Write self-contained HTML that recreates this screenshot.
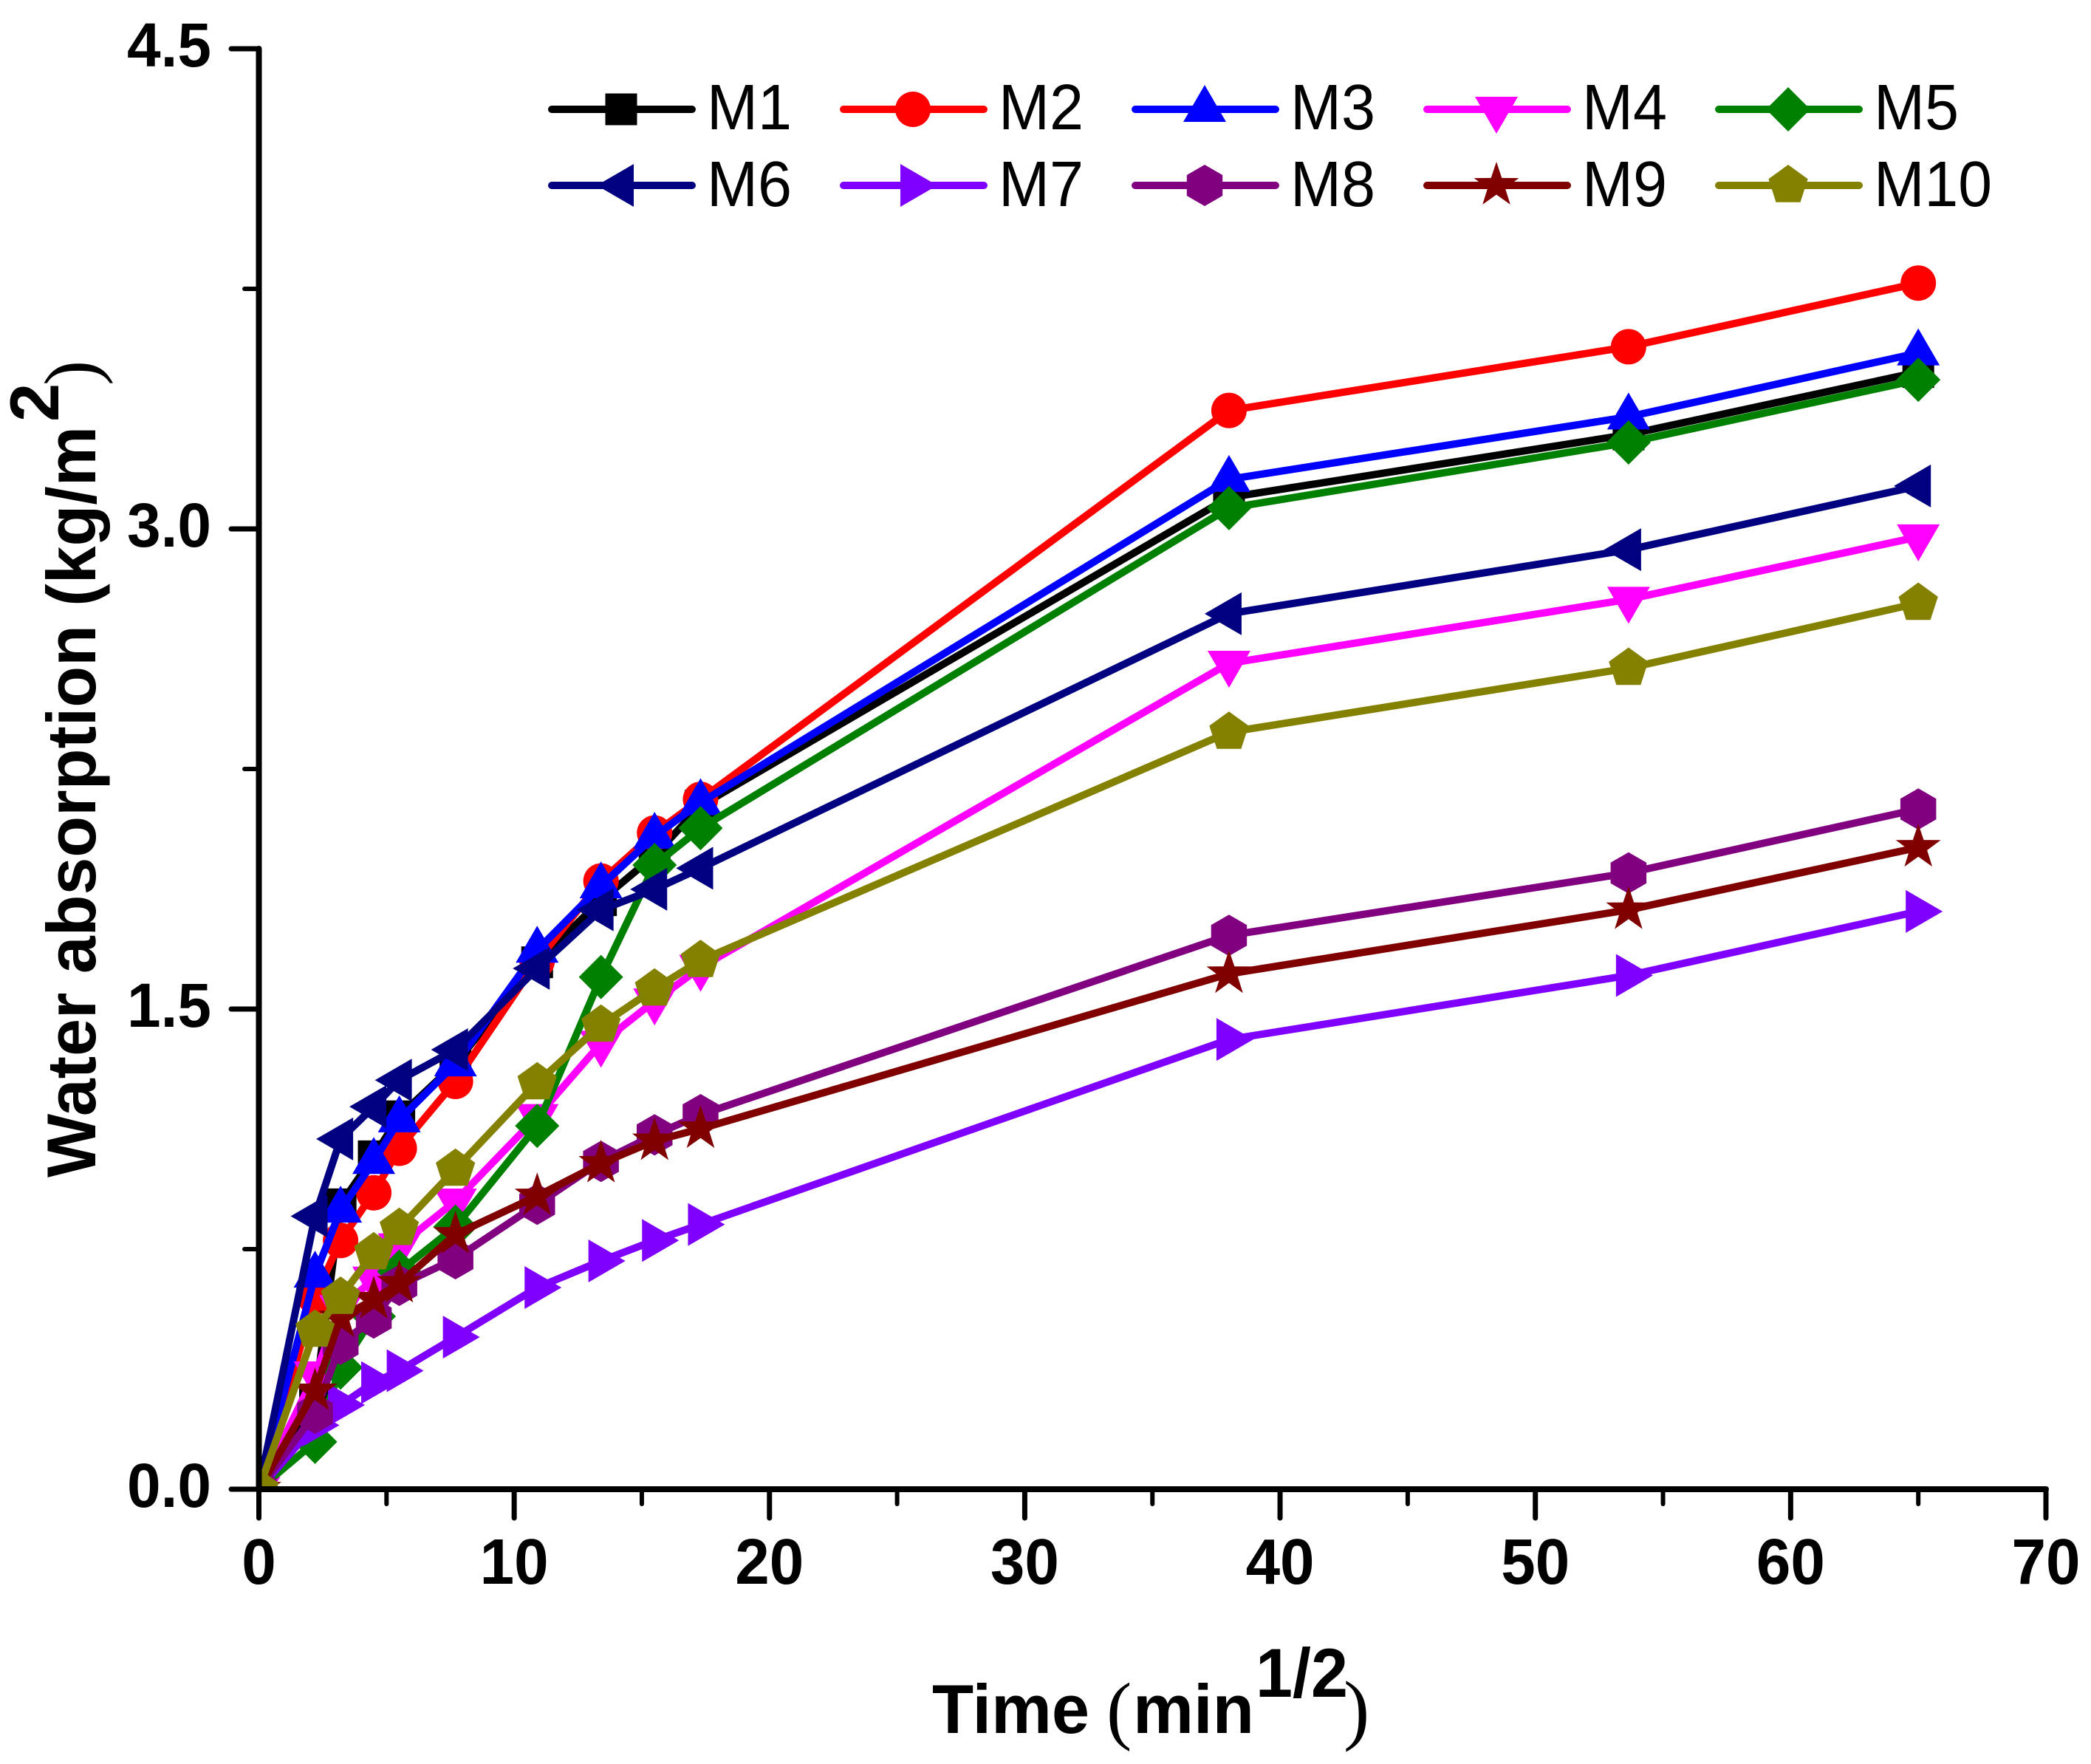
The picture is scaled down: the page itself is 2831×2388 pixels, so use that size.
<!DOCTYPE html>
<html lang="en">
<head>
<meta charset="utf-8">
<title>Water absorption vs time</title>
<style>
  html, body { margin: 0; padding: 0; background: #fff; }
  svg { display: block; }
  text { fill: #000; font-family: "Liberation Sans", Arial, sans-serif; }
  .bold { font-weight: 700; }
  .paren { font-family: "Liberation Serif", "Times New Roman", serif; font-weight: 400; }
</style>
</head>
<body>
<svg id="chart" xmlns="http://www.w3.org/2000/svg" width="2831" height="2388" viewBox="0 0 2831 2388">
  <rect width="2831" height="2388" fill="#fff"/>
  <defs>
    <clipPath id="plot-clip"><rect x="350" y="40" width="2440" height="1976"/></clipPath>
  </defs>
  <g id="series-layer" clip-path="url(#plot-clip)"></g>
  <g id="axes-layer"></g>
  <g id="legend-layer"></g>

  <g>
    <text class="bold" x="1262" y="2346" font-size="94" textLength="213" lengthAdjust="spacingAndGlyphs">Time</text>
    <text class="paren" x="1498" y="2349" font-size="103">(</text>
    <text class="bold" x="1534" y="2346" font-size="94" textLength="164" lengthAdjust="spacingAndGlyphs">min</text>
    <text class="bold" x="1700" y="2297" font-size="94" textLength="125" lengthAdjust="spacingAndGlyphs">1/2</text>
    <text class="paren" x="1819" y="2349" font-size="106">)</text>
  </g>
  <g>
    <text class="bold" transform="translate(129 1594) rotate(-90)" font-size="94" textLength="1017" lengthAdjust="spacingAndGlyphs">Water absorption (kg/m</text>
    <text class="bold" transform="translate(79 571) rotate(-90)" font-size="94">2</text>
    <text class="paren" transform="translate(131 522) rotate(-90)" font-size="103">)</text>
  </g>
</svg>
<script>
var timeValues = [0, 2.2, 3.2, 4.5, 5.5, 7.7, 10.9, 13.4, 15.5, 17.3, 38, 53.65, 65];
var m1Values = [0, 0.28, 0.89, 1.04, 1.165, 1.33, 1.646, 1.84, 1.98, 2.135, 3.098, 3.295, 3.49];
var m2Values = [0, 0.6, 0.777, 0.926, 1.065, 1.274, 1.65, 1.9, 2.05, 2.155, 3.37, 3.569, 3.768];
var m3Values = [0, 0.669, 0.872, 1.024, 1.154, 1.329, 1.684, 1.885, 2.04, 2.145, 3.155, 3.35, 3.55];
var m4Values = [0, 0.36, 0.567, 0.656, 0.76, 0.9, 1.164, 1.393, 1.525, 1.63, 2.58, 2.78, 2.975];
var m5Values = [0, 0.148, 0.38, 0.54, 0.68, 0.82, 1.135, 1.6, 1.95, 2.065, 3.065, 3.27, 3.466];
var m6Values = [0, 0.853, 1.094, 1.195, 1.278, 1.373, 1.627, 1.81, 1.874, 1.94, 2.735, 2.935, 3.134];
var m7Values = [0, 0.2, 0.263, 0.333, 0.37, 0.475, 0.63, 0.713, 0.777, 0.827, 1.405, 1.605, 1.805];
var m8Values = [0, 0.237, 0.453, 0.535, 0.637, 0.72, 0.89, 1.024, 1.107, 1.17, 1.73, 1.925, 2.125];
var m9Values = [0, 0.307, 0.535, 0.593, 0.643, 0.796, 0.916, 1.018, 1.088, 1.126, 1.61, 1.81, 2.005];
var m10Values = [0, 0.497, 0.6, 0.739, 0.815, 1.0, 1.27, 1.45, 1.563, 1.652, 2.365, 2.565, 2.768];
var seriesNames = ["M1", "M2", "M3", "M4", "M5", "M6", "M7", "M8", "M9", "M10"];
var seriesColors = ["#000000", "#ff0000", "#0000ff", "#ff00ff", "#008000", "#000080", "#8000ff", "#800080", "#800000", "#848000"];
var seriesMarkers = ["square", "circle", "up", "down", "diamond", "left", "right", "hexagon", "star", "pentagon"];
var xTickLabels = ["0", "10", "20", "30", "40", "50", "60", "70"];
var xMinorTicks = [5, 15, 25, 35, 45, 55, 65];
var yTickLabels = ["0.0", "1.5", "3.0", "4.5"];
var yMinorTicks = [0.75, 2.25, 3.75];

var allSeries = [m1Values, m2Values, m3Values, m4Values, m5Values, m6Values, m7Values, m8Values, m9Values, m10Values];
var NS = "http://www.w3.org/2000/svg";

function xScale(v) { return 350.5 + (v - 0) * (2770 - 350.5) / 70; }
function yScale(v) { return 2016 - (v - 0) * (2016 - 66) / 4.5; }

function make(tag, parent) {
  var el = document.createElementNS(NS, tag);
  parent.appendChild(el);
  return el;
}

function regularPoints(cx, cy, radius, sides) {
  var pts = [];
  for (var i = 0; i < sides; i++) {
    var a = -Math.PI / 2 + i * 2 * Math.PI / sides;
    pts.push((cx + radius * Math.cos(a)).toFixed(1) + "," + (cy + radius * Math.sin(a)).toFixed(1));
  }
  return pts.join(" ");
}

function starPoints(cx, cy, outer, inner) {
  var pts = [];
  for (var i = 0; i < 10; i++) {
    var r = i % 2 === 0 ? outer : inner;
    var a = -Math.PI / 2 + i * Math.PI / 5;
    pts.push((cx + r * Math.cos(a)).toFixed(1) + "," + (cy + r * Math.sin(a)).toFixed(1));
  }
  return pts.join(" ");
}

function markerShape(kind, cx, cy, parent, color) {
  var el;
  if (kind === "circle") {
    el = make("circle", parent);
    el.setAttribute("cx", cx);
    el.setAttribute("cy", cy);
    el.setAttribute("r", 24);
  } else if (kind === "square") {
    el = make("rect", parent);
    el.setAttribute("x", cx - 21.5);
    el.setAttribute("y", cy - 21.5);
    el.setAttribute("width", 43);
    el.setAttribute("height", 43);
  } else {
    el = make("polygon", parent);
    var p;
    if (kind === "up") p = [[0, -33], [29, 17], [-29, 17]];
    if (kind === "down") p = [[0, 33], [29, -17], [-29, -17]];
    if (kind === "left") p = [[-33, 0], [17, -29], [17, 29]];
    if (kind === "right") p = [[33, 0], [-17, -29], [-17, 29]];
    if (kind === "diamond") p = [[0, -30], [30, 0], [0, 30], [-30, 0]];
    if (p) {
      el.setAttribute("points", p.map(function (q) { return (cx + q[0]) + "," + (cy + q[1]); }).join(" "));
    } else if (kind === "hexagon") {
      el.setAttribute("points", regularPoints(cx, cy, 28, 6));
    } else if (kind === "pentagon") {
      el.setAttribute("points", regularPoints(cx, cy, 28, 5));
    } else {
      el.setAttribute("points", starPoints(cx, cy, 32, 12.5));
    }
  }
  el.setAttribute("fill", color);
  return el;
}

var seriesLayer = document.getElementById("series-layer");
allSeries.forEach(function (values, s) {
  var group = make("g", seriesLayer);
  
  
  var line = make("polyline", group);
  
  
  line.setAttribute("fill", "none");
  line.setAttribute("stroke", seriesColors[s]);
  line.setAttribute("stroke-width", 10);
  line.setAttribute("stroke-linejoin", "round");
  line.setAttribute("points", values.map(function (v, i) {
    return xScale(timeValues[i]).toFixed(1) + "," + yScale(v).toFixed(1);
  }).join(" "));
  values.forEach(function (v, i) {
    var mark = markerShape(seriesMarkers[s], xScale(timeValues[i]), yScale(v), group, seriesColors[s]);
    
    
  });
});

var axes = document.getElementById("axes-layer");

function axisSegment(x1, y1, x2, y2, width, name) {
  var l = make("line", axes);
  
  
  l.setAttribute("x1", x1);
  l.setAttribute("y1", y1);
  l.setAttribute("x2", x2);
  l.setAttribute("y2", y2);
  l.setAttribute("stroke", "#000");
  l.setAttribute("stroke-width", width);
  l.setAttribute("stroke-linecap", "round");
}

axisSegment(350.5, 66, 350.5, 2016, 8, "y-axis-line");
axisSegment(350.5, 2016, 2770, 2016, 8, "x-axis-line");

xTickLabels.forEach(function (label) {
  var v = parseFloat(label);
  axisSegment(xScale(v), 2016, xScale(v), 2055, 7, "x-major-tick");
  var t = make("text", axes);
  
  
  t.setAttribute("class", "bold");
  t.setAttribute("x", xScale(v));
  t.setAttribute("y", 2144);
  t.setAttribute("text-anchor", "middle");
  t.setAttribute("font-size", 87);
  t.setAttribute("textLength", label.length * 46.5);
  t.setAttribute("lengthAdjust", "spacingAndGlyphs");
  t.textContent = label;
});
xMinorTicks.forEach(function (v) {
  axisSegment(xScale(v), 2016, xScale(v), 2036, 6, "x-minor-tick");
});
yTickLabels.forEach(function (label) {
  var v = parseFloat(label);
  axisSegment(350.5, yScale(v), 313, yScale(v), 7, "y-major-tick");
  var t = make("text", axes);
  
  
  t.setAttribute("class", "bold");
  t.setAttribute("x", 286);
  t.setAttribute("y", yScale(v) + 24);
  t.setAttribute("text-anchor", "end");
  t.setAttribute("font-size", 84);
  t.setAttribute("textLength", 114);
  t.setAttribute("lengthAdjust", "spacingAndGlyphs");
  t.textContent = label;
});
yMinorTicks.forEach(function (v) {
  axisSegment(350.5, yScale(v), 331, yScale(v), 6, "y-minor-tick");
});

var legend = document.getElementById("legend-layer");
seriesNames.forEach(function (name, s) {
  var col = s % 5;
  var row = Math.floor(s / 5);
  var lineStart = 747 + col * 395;
  var lineY = row === 0 ? 148 : 251;
  var entry = make("g", legend);
  
  
  var sample = make("line", entry);
  
  
  sample.setAttribute("x1", lineStart);
  sample.setAttribute("y1", lineY);
  sample.setAttribute("x2", lineStart + 190);
  sample.setAttribute("y2", lineY);
  sample.setAttribute("stroke", seriesColors[s]);
  sample.setAttribute("stroke-width", 10);
  sample.setAttribute("stroke-linecap", "round");
  var glyph = markerShape(seriesMarkers[s], lineStart + 94, lineY, entry, seriesColors[s]);
  
  
  var label = make("text", entry);
  
  
  label.setAttribute("x", lineStart + 210);
  label.setAttribute("y", row === 0 ? 175 : 279);
  label.setAttribute("font-size", 87);
  label.setAttribute("textLength", name.length === 3 ? 160 : 115);
  label.setAttribute("lengthAdjust", "spacingAndGlyphs");
  label.textContent = name;
});
</script>
</body>
</html>
